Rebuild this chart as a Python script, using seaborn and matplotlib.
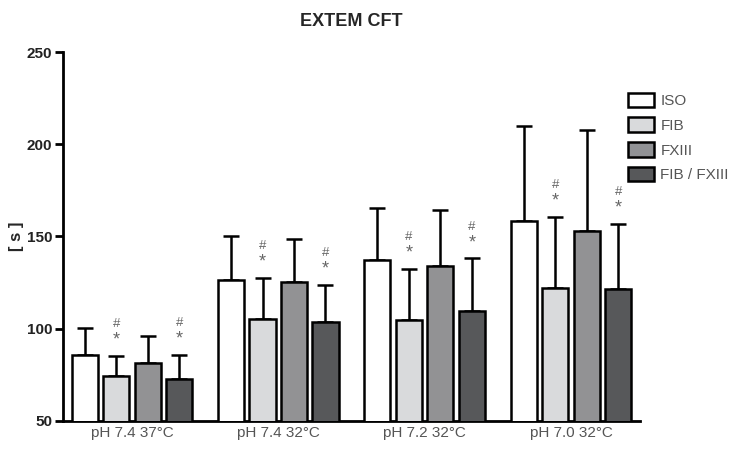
import pandas as pd
import matplotlib
matplotlib.use("Agg")
import matplotlib.pyplot as plt
import seaborn as sns
from matplotlib.patches import Patch

# Datos
conditions = ["pH 7.4 37°C", "pH 7.4 32°C", "pH 7.2 32°C", "pH 7.0 32°C"]
groups = ["ISO", "FIB", "FXIII", "FIB / FXIII"]
means = {
    "ISO": [85.5, 126.5, 137.0, 158.5],
    "FIB": [74.5, 105.3, 104.7, 122.0],
    "FXIII": [81.5, 125.3, 134.0, 153.0],
    "FIB / FXIII": [72.8, 103.8, 109.5, 121.3],
}
sds = {
    "ISO": [15.0, 24.0, 28.5, 51.5],
    "FIB": [10.8, 22.3, 27.6, 38.5],
    "FXIII": [14.8, 23.4, 30.6, 54.8],
    "FIB / FXIII": [13.2, 20.0, 28.6, 35.6],
}
signif = {"FIB": [True, True, True, True], "FIB / FXIII": [True, True, True, True]}
colors = ["#ffffff", "#d9dadc", "#919295", "#57585a"]

rows = []
for g in groups:
    for c, m, s in zip(conditions, means[g], sds[g]):
        rows.append({"cond": c, "group": g, "mean": m, "sd": s})
df = pd.DataFrame(rows)

sns.set_style("white")
plt.rcParams["font.family"] = ["Liberation Sans", "DejaVu Sans"]

fig = plt.figure(figsize=(7.43, 4.57), dpi=100)
ax = fig.add_axes([0.085, 0.079, 0.776, 0.807])

sns.barplot(data=df, x="cond", y="mean", hue="group", hue_order=groups,
            palette=colors, width=0.86, gap=0.17, errorbar=None,
            edgecolor="black", linewidth=1.8, ax=ax, legend=False, zorder=3)

# barras de error (solo hacia arriba) y marcas de significancia
for i, g in enumerate(groups):
    patches = ax.patches[i * len(conditions):(i + 1) * len(conditions)]
    for j, p in enumerate(patches):
        xc = p.get_x() + p.get_width() / 2
        m = means[g][j]
        s = sds[g][j]
        ax.errorbar(xc, m, yerr=[[0], [s]], color="black", lw=1.8,
                    capsize=6, capthick=1.8, zorder=2)
        if g in signif and signif[g][j]:
            ax.text(xc, m + s + 4, "*", ha="center", va="bottom",
                    fontsize=13, color="#666666")
            ax.text(xc, m + s + 14, "#", ha="center", va="bottom",
                    fontsize=9.5, color="#666666")

ax.set_ylim(50, 250)
ax.set_xlim(-0.47, 3.47)
ax.set_yticks([50, 100, 150, 200, 250])
sns.despine(ax=ax)
for sp in ["left", "bottom"]:
    ax.spines[sp].set_linewidth(2)
    ax.spines[sp].set_color("black")
ax.tick_params(axis="y", length=6, width=2, direction="out", left=True,
               labelsize=11, colors="black", pad=2)
ax.tick_params(axis="x", length=0, labelsize=11, labelcolor="#555555", pad=4)
for t in ax.get_yticklabels():
    t.set_fontweight("bold")
    t.set_color("#222222")

ax.set_xlabel("")
ax.set_ylabel("[ s ]", fontsize=12, fontweight="bold")
ax.yaxis.set_label_coords(-0.068, 0.5)
ax.set_title("EXTEM CFT", fontsize=13, fontweight="bold", pad=19)

handles = [Patch(facecolor=c, edgecolor="black", linewidth=1.8, label=g)
           for c, g in zip(colors, groups)]
leg = ax.legend(handles=handles, loc="upper left", bbox_to_anchor=(0.979, 0.89),
                frameon=False, fontsize=11, handlelength=1.75, handleheight=1.1,
                labelspacing=0.6, handletextpad=0.4, borderaxespad=0, borderpad=0)
for t in leg.get_texts():
    t.set_color("#555555")

fig.savefig("out.png", dpi=100)
